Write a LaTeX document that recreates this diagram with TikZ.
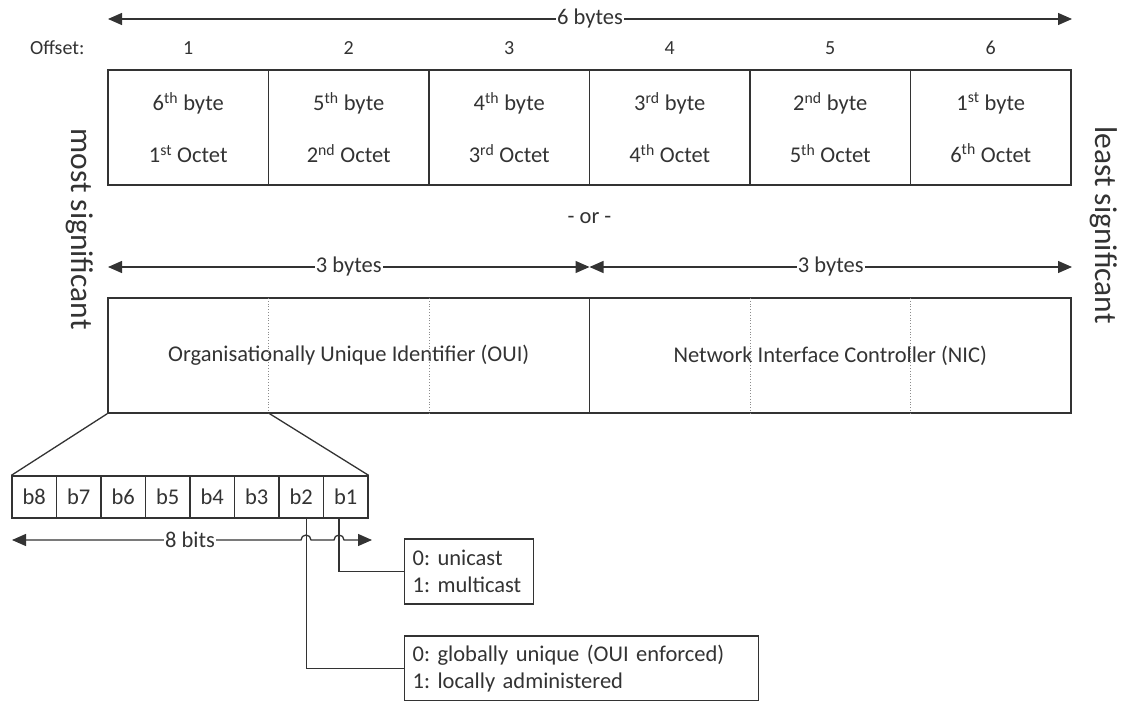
\documentclass[tikz,border=0pt]{standalone}
\usepackage{fontspec}
\setmainfont{Carlito}
\frenchspacing
\usetikzlibrary{arrows.meta, positioning, calc}

\tikzset{
  stroke/.style={line width=1.3pt, draw=black!80},
  dim/.style={stroke, {Triangle[length=14pt,width=12pt]}-{Triangle[length=14pt,width=12pt]}},
  dimlabel/.style={fill=white, inner sep=1pt},
  cell/.style={stroke, minimum width=160.5pt, minimum height=115pt, inner sep=0pt, align=center},
  half/.style={stroke, minimum width=481.5pt, minimum height=115pt, inner sep=0pt},
  bitcell/.style={stroke, minimum width=44.5pt, minimum height=42pt, inner sep=0pt},
  infobox/.style={stroke, anchor=west, minimum height=65pt, inner xsep=8pt, align=left},
  divider/.style={line width=0.8pt, draw=black!45, dotted},
  sublabel/.style={font=\fontsize{20}{24}\selectfont},
  sidelabel/.style={font=\fontsize{31.5}{36}\selectfont, rotate=-90},
}

\begin{document}
\begin{tikzpicture}[x=1pt, y=1pt, font=\fontsize{22.5}{27}\selectfont, text=black!80]
        \useasboundingbox (0,0) rectangle (1128,-701);

        % Total length
        \coordinate (T1) at (108,-19);
        \coordinate (T2) at (1072,-19);
        \draw[dim] (T1) -- (T2) node[dimlabel, midway] {6 bytes};

        % Offsets
        \node[sublabel, anchor=east] (offset) at (88,-48) {Offset:};
        \foreach \i in {1,...,6} \node[sublabel] (off\i) at ({27.75+160.5*\i},-48) {\i};

        % Byte Cells
        \foreach \i/\b/\bs/\o/\os in {1/6/th/1/st, 2/5/th/2/nd, 3/4/th/3/rd, 4/3/rd/4/th, 5/2/nd/5/th, 6/1/st/6/th}
          \node[cell] (byte\i) at ({27.75+160.5*\i},-127.5) {\b\textsuperscript{\bs} byte\\[25pt]\o\textsuperscript{\os} Octet};

        % Side Labels
        \node[sidelabel] (msb) at (80,-229) {most significant};
        \node[sidelabel] (lsb) at (1104,-225) {least significant};

        \node (or) at (589.5,-218) {- or -};

        % Halves
        \coordinate (H1) at (108,-267);
        \coordinate (H2) at (589.5,-267);
        \coordinate (H3) at (1072,-267);
        \draw[dim] (H1) -- (H2) node[dimlabel, midway] {3 bytes};
        \draw[dim] (H2) -- (H3) node[dimlabel, midway] {3 bytes};

        \node[half] (oui) at (348.75,-355.5) {Organisationally Unique Identifier (OUI)};
        \node[half] (nic) at (830.25,-355.5) {Network Interface Controller (NIC)};
        \foreach \x in {268.5, 429, 750, 910.5} \draw[divider] (\x,-298) -- (\x,-413);

        % Bits
        \foreach \i in {1,...,8} \node[bitcell] (b\i) at ({34.25+44.5*(8-\i)},-497) {b\i};

        % Zoom Lines
        \coordinate (Z) at (268.5,-413);
        \draw[stroke] (oui.south west) -- (b8.north west);
        \draw[stroke] (Z) -- (b1.north east);

        % 8 bits (hops over the bit lines)
        \coordinate (B1) at (12,-540);
        \coordinate (B2) at (372,-540);
        \draw[dim] (B1) -- (301,-540) arc (180:0:5) -- (334,-540) arc (180:0:5) -- (B2);
        \node[dimlabel] (bits) at (190,-540) {8 bits};

        % Flag Boxes
        \node[infobox, text width=113pt] (cast) at (404,-571.5) {0: unicast\\1: multicast};
        \node[infobox, text width=338pt] (admin) at (404,-668.5) {0: globally unique (OUI enforced)\\1: locally administered};

        \draw[stroke] ([xshift=-6.75pt]b1.south) |- (cast.west);
        \draw[stroke] ([xshift=5pt]b2.south) |- (admin.west);

\end{tikzpicture}
\end{document}
